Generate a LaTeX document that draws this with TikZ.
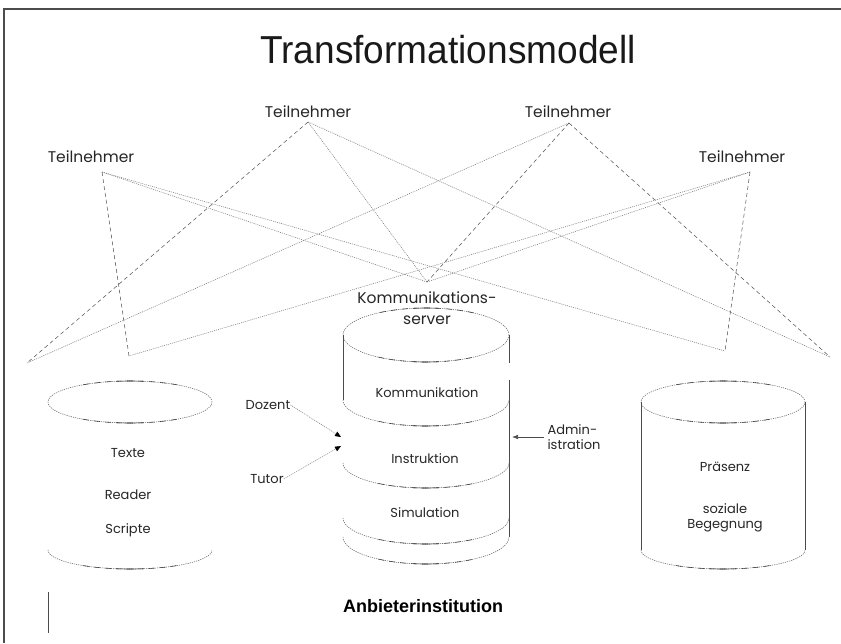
\documentclass[tikz,border=0pt]{standalone}
\usepackage{fontspec}
\setmainfont{Liberation Sans}
\newfontfamily\gothic{Poppins}
\usetikzlibrary{arrows.meta,calc}
\tikzset{
  lbl/.style={font=\gothic\fontsize{13}{15}\selectfont, text=black!85, inner sep=0pt},
  biglbl/.style={font=\gothic\fontsize{15.5}{19}\selectfont, text=black!85, inner sep=0pt},
  dotline/.style={draw=black!55, line width=0.5pt, dash pattern=on 1pt off 1pt},
  dashline/.style={draw=black!70, line width=0.5pt, dash pattern=on 4pt off 3pt},
  rim/.style={draw=black!60, line width=0.55pt, dash pattern=on 1.2pt off 1pt},
  rimc/.style={draw=black!75, line width=0.6pt, dash pattern=on 6pt off 5pt},
  side/.style={draw=black!70, line width=0.6pt},
  tipline/.style={draw=black, line width=0.5pt, -{Triangle[length=6pt,width=5pt]}},
  frame/.style={draw=black!70, line width=1.4pt}
}
\begin{document}
\begin{tikzpicture}[x=1pt,y=-1pt]
\useasboundingbox (0,0) rectangle (841,643);
% frame
\coordinate (fl) at (4,643);
\coordinate (fc) at (4,9);
\coordinate (fr) at (841,9);
\draw[frame] (fl) -- (fc) -- (fr);

% title
\node[font=\fontsize{39}{42}\selectfont, xscale=0.95, text=black!90] (title) at (448,50) {Transformationsmodell};

% Teilnehmer
\node[biglbl] (t1) at (91,157) {Teilnehmer};
\node[biglbl] (t2) at (308,112) {Teilnehmer};
\node[biglbl] (t3) at (568,112) {Teilnehmer};
\node[biglbl] (t4) at (742,157) {Teilnehmer};
\coordinate (a1) at (102,172);
\coordinate (a2) at (308,122);
\coordinate (a3) at (569,123);
\coordinate (a4) at (750,172);
\coordinate (b1) at (27,363);
\coordinate (b2) at (129,356);
\coordinate (b3) at (427,282);
\coordinate (b4) at (725,351);
\coordinate (b5) at (830,357);

\draw[dashline] (a1) -- (b2);
\draw[dotline] (a1) -- (b3);
\draw[dotline] (a1) -- (b4);
\draw[dashline] (a2) -- (b1);
\draw[dotline] (a2) -- (b3);
\draw[dotline] (a2) -- (b5);
\draw[dotline] (a3) -- (b1);
\draw[dashline] (a3) -- (b3);
\draw[dashline] (a3) -- (b5);
\draw[dotline] (a4) -- (b2);
\draw[dotline] (a4) -- (b3);
\draw[dashline] (a4) -- (b4);

% left cylinder
\draw[rim] (130,402) ellipse [x radius=82pt, y radius=21pt];
\draw[rim] (48,550) arc[start angle=180, end angle=360, x radius=82pt, y radius=19pt];
\node[lbl] (texte) at (128,453) {Texte};
\node[lbl] (reader) at (128,495) {Reader};
\node[lbl] (scripte) at (128,530) {Scripte};

% server cylinder
\node[biglbl] (k1) at (427,298) {Kommunikations-};
\node[biglbl] (k2) at (427,320) {server};
\draw[rim] (426,335) ellipse [x radius=83pt, y radius=27pt];
\draw[side] (343,335) -- (343,400);
\draw[side] (509,335) -- (509,363);
\draw[side] (509,380) -- (509,537);
\draw[rim] (343,400) arc[start angle=180, end angle=360, x radius=83pt, y radius=26pt];
\draw[rim] (343,463) arc[start angle=180, end angle=360, x radius=83pt, y radius=25pt];
\draw[rim] (343,518) arc[start angle=180, end angle=360, x radius=83pt, y radius=26pt];
\draw[rim] (343,537) arc[start angle=180, end angle=360, x radius=83pt, y radius=27pt];
\node[lbl] (komm) at (427,393) {Kommunikation};
\node[lbl] (instr) at (425,459) {Instruktion};
\node[lbl] (simu) at (425,513) {Simulation};

% right cylinder
\draw[rim] (723,402) ellipse [x radius=82pt, y radius=21pt];
\draw[side] (641,402) -- (641,550);
\draw[side] (805,402) -- (805,550);
\draw[rim] (641,550) arc[start angle=180, end angle=360, x radius=82pt, y radius=19pt];
\node[lbl] (praes) at (725,467) {Präsenz};
\node[lbl, align=center] (sozial) at (725,518) {soziale\\Begegnung};

% rim accents (dashed middle parts with a solid centre piece)
\foreach \cx/\cy/\rx/\ry/\a in {130/402/82/21/90, 130/402/82/21/270, 130/550/82/19/270,
  426/335/83/27/90, 426/335/83/27/270, 426/400/83/26/270, 426/463/83/25/270,
  426/518/83/26/270, 426/537/83/27/270,
  723/402/82/21/90, 723/402/82/21/270, 723/550/82/19/270}{
  \draw[rimc] (\cx,\cy) ++(\a-35:\rx pt and \ry pt) arc[start angle=\a-35, end angle=\a+35, x radius=\rx pt, y radius=\ry pt];
  \draw[side] (\cx,\cy) ++(\a-9:\rx pt and \ry pt) arc[start angle=\a-9, end angle=\a+9, x radius=\rx pt, y radius=\ry pt];
}

% Dozent / Tutor
\node[lbl] (dozent) at (268,405) {Dozent};
\node[lbl] (tutor) at (267,479) {Tutor};
\coordinate (dz) at (341,437);
\coordinate (tz) at (341,446);
\draw[dotline, shorten >=5pt] (dozent.east) -- (dz);
\draw[dotline, shorten >=5pt] (tutor.east) -- (tz);
\draw[tipline] ($(dz)!6pt!(dozent.east)$) -- (dz);
\draw[tipline] ($(tz)!6pt!(tutor.east)$) -- (tz);

% Administration
\node[lbl, align=left] (admin) at (574,437) {Admin-\\istration};
\coordinate (ad) at (512,437);
\coordinate (ads) at (544,437);
\draw[side, -{Latex[length=6pt,width=4.5pt]}] (ads) -- (ad);

% bottom
\coordinate (v1) at (48,592);
\coordinate (v2) at (48,633);
\draw[side] (v1) -- (v2);
\node[font=\bfseries\fontsize{18}{20}\selectfont] (anb) at (423,606) {Anbieterinstitution};
\end{tikzpicture}
\end{document}
